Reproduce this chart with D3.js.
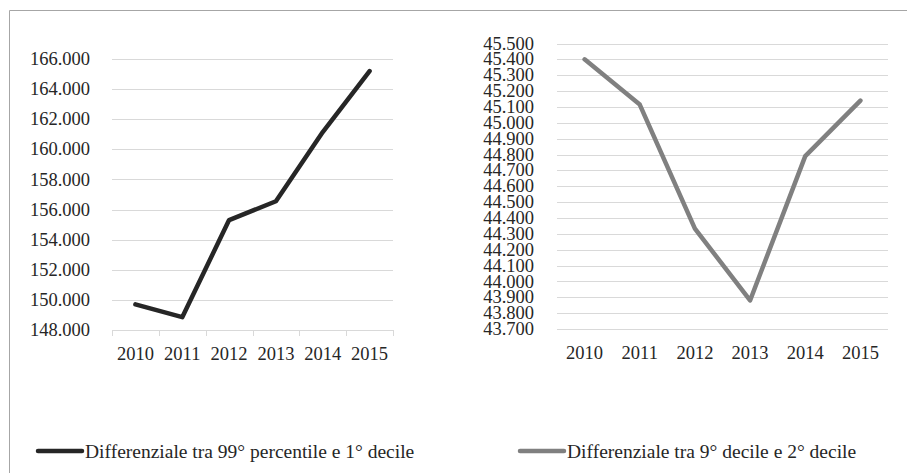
<!DOCTYPE html>
<html>
<head>
<meta charset="utf-8">
<script src="https://cdn.jsdelivr.net/npm/d3@7"></script>
<style>
  html, body { margin: 0; padding: 0; background: #fff; }
</style>
</head>
<body>
<svg id="chart" width="907" height="473"></svg>
<script>
// ---- data ----
const years = ["2010", "2011", "2012", "2013", "2014", "2015"];
const series1Name = "Differenziale tra 99° percentile e 1° decile";
const series1 = [149700, 148850, 155300, 156550, 161150, 165200];
const series1Ticks = [148000, 150000, 152000, 154000, 156000, 158000, 160000, 162000, 164000, 166000];
const series2Name = "Differenziale tra 9° decile e 2° decile";
const series2 = [45400, 45115, 44333, 43880, 44790, 45140];
const series2Ticks = [43700, 43800, 43900, 44000, 44100, 44200, 44300, 44400, 44500, 44600,
                      44700, 44800, 44900, 45000, 45100, 45200, 45300, 45400, 45500];

const FONT = "'Liberation Serif'";
const fmt = v => d3.format(",.3f")(v / 1000).replace(/,/g, "");
const svg = d3.select("#chart");

// outer frame (top + left)
svg.append("path").attr("d", "M9.5,473 L9.5,10.5 L907,10.5")
  .attr("fill", "none").attr("stroke", "#a6a6a6").attr("stroke-width", 1);

function drawPanel(cfg) {
  const x = d3.scaleBand().domain(years).range([cfg.x0, cfg.x1]);
  const y = d3.scaleLinear().domain(cfg.domain).range([cfg.yBottom, cfg.yTop]);
  const g = svg.append("g");

  // gridlines
  g.selectAll("line.grid").data(cfg.ticks).join("line")
    .attr("x1", cfg.x0).attr("x2", cfg.x1)
    .attr("y1", d => Math.round(y(d)) + 0.5).attr("y2", d => Math.round(y(d)) + 0.5)
    .attr("stroke", "#d9d9d9").attr("stroke-width", 1);

  // x tick marks
  if (cfg.tickMarks) {
    const bounds = years.map(d => x(d)).concat([cfg.x1]);
    g.selectAll("line.tk").data(bounds).join("line")
      .attr("x1", d => Math.round(d) + 0.5).attr("x2", d => Math.round(d) + 0.5)
      .attr("y1", Math.round(y(cfg.domain[0]))).attr("y2", Math.round(y(cfg.domain[0])) + 6)
      .attr("stroke", "#d9d9d9").attr("stroke-width", 1);
  }

  // y labels
  g.selectAll("text.yl").data(cfg.ticks).join("text")
    .attr("x", cfg.labelX).attr("y", d => y(d)).attr("dy", "0.33em")
    .attr("text-anchor", "end").attr("fill", "#262626")
    .style("font-family", FONT).style("font-size", cfg.yFont + "px")
    .text(fmt);

  // x labels
  g.selectAll("text.xl").data(years).join("text")
    .attr("x", d => x(d) + x.bandwidth() / 2).attr("y", cfg.xLabelY)
    .attr("text-anchor", "middle").attr("fill", "#262626")
    .style("font-family", FONT).style("font-size", "18.5px")
    .text(d => d);

  // line
  const line = d3.line().x((d, i) => x(years[i]) + x.bandwidth() / 2).y(d => y(d));
  g.append("path").datum(cfg.values)
    .attr("d", line).attr("fill", "none")
    .attr("stroke", cfg.color).attr("stroke-width", 4.5)
    .attr("stroke-linejoin", "round").attr("stroke-linecap", "round");
}

drawPanel({
  x0: 112, x1: 393, yTop: 59, yBottom: 330,
  domain: [148000, 166000], ticks: series1Ticks, values: series1,
  color: "#262626", labelX: 90, yFont: 18.5, xLabelY: 360, tickMarks: true
});

drawPanel({
  x0: 557, x1: 888, yTop: 43.5, yBottom: 329,
  domain: [43700, 45500], ticks: series2Ticks, values: series2,
  color: "#808080", labelX: 534, yFont: 18.5, xLabelY: 359, tickMarks: false
});

// legend
const legend = [
  { name: series1Name, color: "#262626", x: 38 },
  { name: series2Name, color: "#808080", x: 520 }
];
const lg = svg.append("g").selectAll("g").data(legend).join("g");
lg.append("line")
  .attr("x1", d => d.x).attr("x2", d => d.x + 44)
  .attr("y1", 451).attr("y2", 451)
  .attr("stroke", d => d.color).attr("stroke-width", 4.5).attr("stroke-linecap", "round");
lg.append("text")
  .attr("x", d => d.x + 47).attr("y", 458)
  .attr("fill", "#262626")
  .style("font-family", FONT).style("font-size", "19.5px")
  .text(d => d.name);
</script>
</body>
</html>
